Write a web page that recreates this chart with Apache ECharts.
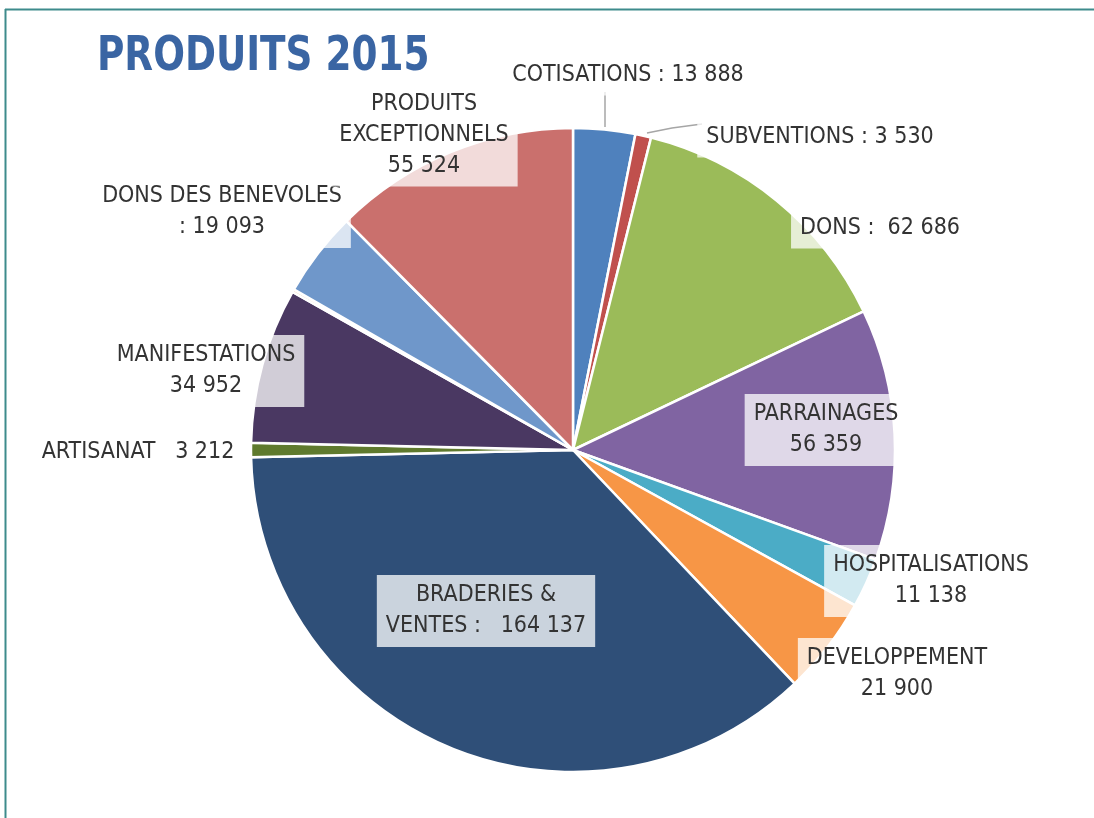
<!DOCTYPE html>
<html>
<head>
<meta charset="utf-8">
<script src="https://cdn.jsdelivr.net/npm/echarts@6/dist/echarts.min.js"></script>
<style>
html,body{margin:0;padding:0;background:#fff;}
#c{width:1094px;height:818px;}
</style>
</head>
<body>
<div id="c"></div>
<script>
// ---- data ----
var titleText = 'PRODUITS 2015';
var names = ['COTISATIONS : 13 888', 'SUBVENTIONS : 3 530', 'DONS :  62 686', 'PARRAINAGES\n56 359',
  'HOSPITALISATIONS\n11 138', 'DEVELOPPEMENT\n21 900', 'BRADERIES &\nVENTES :   164 137', 'ARTISANAT   3 212',
  'MANIFESTATIONS\n34 952', '', 'DONS DES BENEVOLES\n: 19 093', 'PRODUITS\nEXCEPTIONNELS\n55 524'];
var values = [13888, 3530, 62686, 56359, 11138, 21900, 164137, 3212, 34952, 600, 19093, 55524];
var colors = ['#4F81BD', '#C0504D', '#9BBB59', '#8064A2', '#4BACC6', '#F79646', '#2F4F78', '#5F7A2E',
  '#4A3862', '#F0A060', '#6F97CA', '#CA706D'];

// ---- label layout (text placement only) ----
var labelPos = [[628, 75], [820, 137], [880, 228], [826, 430], [931, 581], [897, 674], [486, 611],
  [138, 452], [206, 371], null, [222, 212], [424, 135]];
var leaderLines = {0: [[605, 127], [605, 110], [605, 92]], 1: [[647, 133], [672, 128], [702, 124]]};

var chart = echarts.init(document.getElementById('c'), null, {renderer: 'canvas'});
var data = values.map(function (v, i) {
  return {
    name: names[i], value: v,
    itemStyle: {color: colors[i]},
    label: {show: names[i] !== ''},
    labelLine: {show: leaderLines[i] !== undefined}
  };
});
var FONT = '"DejaVu Sans Condensed", "Liberation Sans Narrow", sans-serif';
chart.setOption({
  animation: false,
  backgroundColor: '#ffffff',
  graphic: [
    {type: 'line', shape: {x1: 5, y1: 9.5, x2: 1094, y2: 9.5}, style: {stroke: '#3E8B8C', lineWidth: 2}},
    {type: 'line', shape: {x1: 5.5, y1: 9, x2: 5.5, y2: 818}, style: {stroke: '#3E8B8C', lineWidth: 2}},
    {type: 'text', x: 97, y: 58, scaleX: 0.865,
      style: {text: titleText, font: 'bold 48px ' + FONT, fill: '#3A65A3', verticalAlign: 'middle', align: 'left'}}
  ],
  series: [{
    type: 'pie',
    center: [573, 450],
    radius: 322,
    startAngle: 90,
    clockwise: true,
    avoidLabelOverlap: false,
    itemStyle: {borderColor: '#ffffff', borderWidth: 2.5},
    label: {
      position: 'outside',
      formatter: '{b}',
      fontFamily: FONT, fontSize: 23, lineHeight: 31, color: '#333333',
      backgroundColor: 'rgba(255,255,255,0.75)', padding: [5, 9], align: 'center'
    },
    labelLine: {show: false, lineStyle: {color: '#A6A6A6', width: 1.5}},
    labelLayout: function (p) {
      var pos = labelPos[p.dataIndex];
      if (!pos) return {};
      var r = {x: pos[0], y: pos[1], align: 'center', verticalAlign: 'middle'};
      if (leaderLines[p.dataIndex]) r.labelLinePoints = leaderLines[p.dataIndex];
      return r;
    },
    emphasis: {disabled: true},
    data: data
  }]
});
</script>
</body>
</html>
